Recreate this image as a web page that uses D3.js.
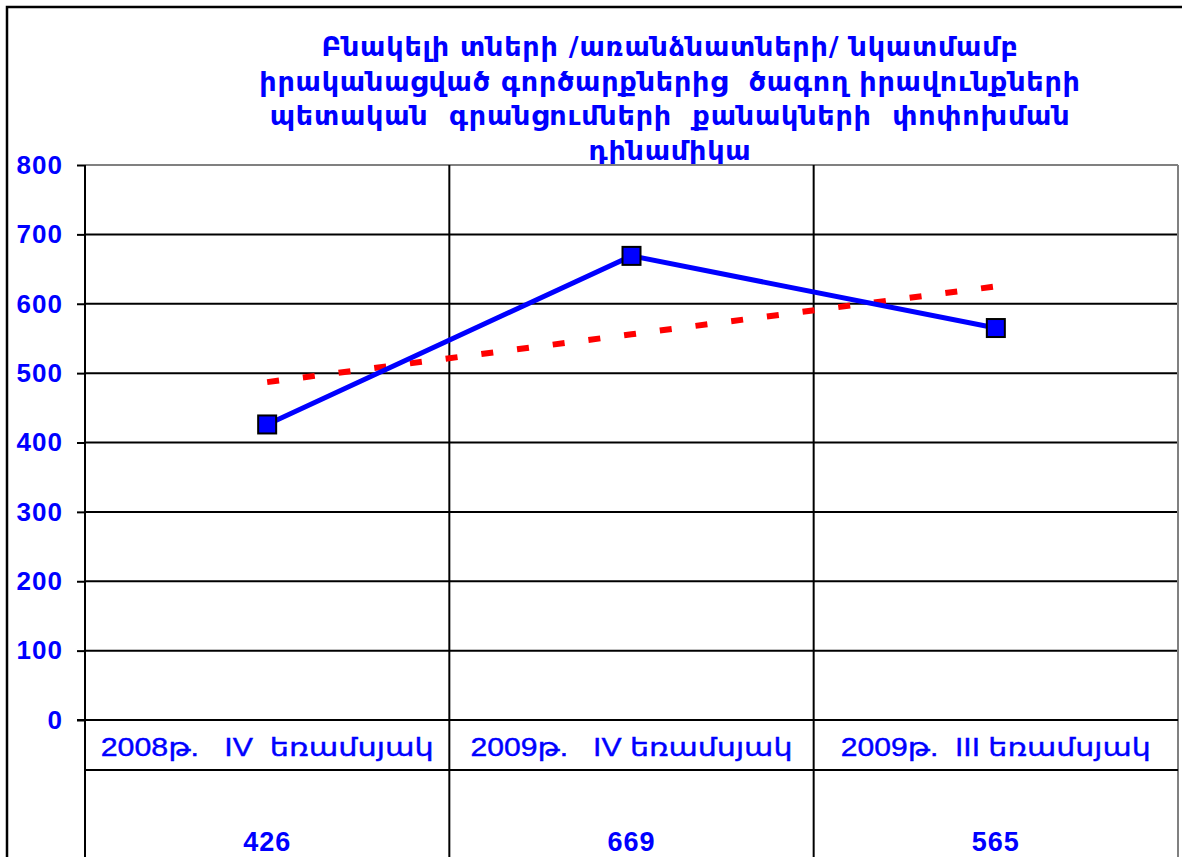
<!DOCTYPE html>
<html>
<head>
<meta charset="utf-8">
<script src="https://cdn.jsdelivr.net/npm/d3@7"></script>
<style>
  body { margin: 0; background: #fff; }
  svg { display: block; }
</style>
</head>
<body>
<svg width="1182" height="857"></svg>
<script>
// chart data
var titleLines = [
    "Բնակելի տների /առանձնատների/ նկատմամբ",
    "իրականացված գործարքներից  ծագող իրավունքների",
    "պետական  գրանցումների  քանակների  փոփոխման",
    "դինամիկա"
];
var categories = ["2008թ.   IV  եռամսյակ", "2009թ.   IV եռամսյակ", "2009թ.  III եռամսյակ"];
var values = [426, 669, 565];
var trendValues = [487, 556, 625];
var yTicks = [0, 100, 200, 300, 400, 500, 600, 700, 800];

var blue = "#0000ff";
var svg = d3.select("svg");

var plotL = 85, plotR = 1178, plotT = 165, plotB = 720;

var x = d3.scaleBand().domain(d3.range(categories.length)).range([plotL, plotR]).paddingInner(0).paddingOuter(0);
var y = d3.scaleLinear().domain([0, 800]).range([plotB, plotT]);
var cx = function(d, i) { return x(i) + x.bandwidth() / 2; };

// outer chart border
svg.append("path")
    .attr("d", "M7,857V7H1182")
    .attr("fill", "none")
    .attr("stroke", "#000")
    .attr("stroke-width", 2.5);

// title
var title = svg.append("text")
    .attr("text-anchor", "middle")
    .attr("fill", blue)
    .style("font-family", "'DejaVu Sans', sans-serif")
    .style("font-weight", "bold")
    .style("font-size", "27px")
    .style("letter-spacing", "0.8px")
    .style("white-space", "pre");
titleLines.forEach(function(t, i) {
    title.append("tspan").attr("x", 670).attr("y", 56 + i * 34.5).text(t);
});

// gridlines
svg.append("g").selectAll("line")
    .data(yTicks.filter(function(d) { return d > 0; }))
    .enter().append("line")
    .attr("x1", plotL).attr("x2", plotR)
    .attr("y1", function(d) { return y(d); })
    .attr("y2", function(d) { return y(d); })
    .attr("stroke", function(d) { return d === 800 ? "#808080" : "#000"; })
    .attr("stroke-width", 2);

// y axis
var yAxis = svg.append("g")
    .attr("transform", "translate(" + plotL + ",0)")
    .call(d3.axisLeft(y).tickValues(yTicks).tickSize(8).tickPadding(14));
yAxis.select(".domain").attr("stroke", "#000").attr("stroke-width", 2).attr("d", "M0," + plotT + "V857");
yAxis.selectAll(".tick line").attr("stroke", "#000").attr("stroke-width", 2);
yAxis.selectAll(".tick text")
    .attr("fill", blue)
    .style("font-family", "'Liberation Sans', Arial, sans-serif")
    .style("font-weight", "bold")
    .style("font-size", "26px")
    .style("letter-spacing", "1px");

// data table / category separators
var seps = d3.range(1, categories.length).map(function(i) { return x(i); });
svg.append("g").selectAll("line")
    .data(seps)
    .enter().append("line")
    .attr("x1", function(d) { return d; }).attr("x2", function(d) { return d; })
    .attr("y1", plotT).attr("y2", 857)
    .attr("stroke", "#000").attr("stroke-width", 2);

svg.append("line")
    .attr("x1", plotR).attr("x2", plotR).attr("y1", plotT).attr("y2", 857)
    .attr("stroke", "#808080").attr("stroke-width", 2);

svg.append("line")
    .attr("x1", plotL - 8).attr("x2", plotR).attr("y1", plotB).attr("y2", plotB)
    .attr("stroke", "#000").attr("stroke-width", 2);
svg.append("line")
    .attr("x1", plotL).attr("x2", plotR).attr("y1", 770).attr("y2", 770)
    .attr("stroke", "#000").attr("stroke-width", 2);

// category row: the original face is wider than ours, so stretch to its width
var labelWidths = [333, 322, 310];
svg.append("g").selectAll("text")
    .data(categories)
    .enter().append("text")
    .attr("x", cx)
    .attr("y", 756)
    .attr("text-anchor", "middle")
    .attr("fill", blue)
    .attr("stroke", blue)
    .attr("stroke-width", 0.4)
    .attr("textLength", function(d, i) { return labelWidths[i]; })
    .attr("lengthAdjust", "spacingAndGlyphs")
    .style("font-family", "'Liberation Sans', 'DejaVu Sans', sans-serif")
    .style("font-size", "25px")
    .style("white-space", "pre")
    .text(function(d) { return d; });

svg.append("g").selectAll("text")
    .data(values)
    .enter().append("text")
    .attr("x", cx)
    .attr("y", 851)
    .attr("text-anchor", "middle")
    .attr("fill", blue)
    .style("font-family", "'Liberation Sans', Arial, sans-serif")
    .style("font-weight", "bold")
    .style("font-size", "27px")
    .style("letter-spacing", "1px")
    .text(function(d) { return d; });

// trendline
svg.append("path")
    .datum(trendValues)
    .attr("d", d3.line().x(cx).y(function(d) { return y(d); }))
    .attr("fill", "none")
    .attr("stroke", "#ff0000")
    .attr("stroke-width", 6)
    .attr("stroke-dasharray", "12,24");

// series line
svg.append("path")
    .datum(values)
    .attr("d", d3.line().x(cx).y(function(d) { return y(d); }))
    .attr("fill", "none")
    .attr("stroke", blue)
    .attr("stroke-width", 5);

svg.append("g").selectAll("rect")
    .data(values)
    .enter().append("rect")
    .attr("x", function(d, i) { return cx(d, i) - 9; })
    .attr("y", function(d) { return y(d) - 9; })
    .attr("width", 18).attr("height", 18)
    .attr("fill", blue)
    .attr("stroke", "#000")
    .attr("stroke-width", 2);
</script>
</body>
</html>
